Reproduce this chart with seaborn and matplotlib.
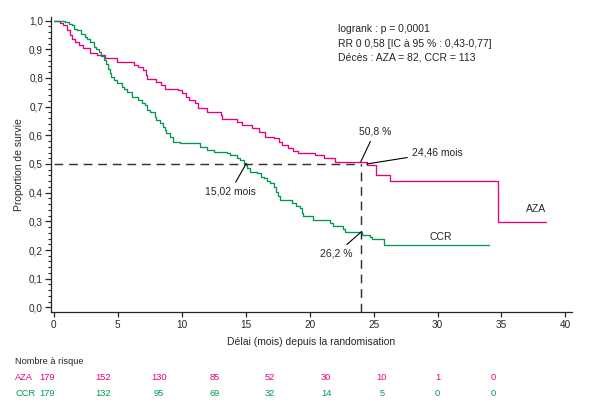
import matplotlib
matplotlib.use("Agg")
import matplotlib.pyplot as plt
import seaborn as sns
import numpy as np

# Courbes de survie (Kaplan-Meier) : temps (mois) / proportion
aza_temps = [0, 0.5, 0.75, 1.0, 1.25, 1.45, 1.65, 2.0, 2.3, 2.8, 3.4, 4.0, 4.9,
             6.3, 6.6, 7.0, 7.2, 7.3, 8.0, 8.4, 8.7, 9.7, 10.0, 10.3, 10.6,
             11.0, 11.3, 11.95, 13.05, 13.15, 14.3, 14.7, 15.5, 16.0, 16.5,
             17.2, 17.6, 17.8, 18.3, 18.7, 19.1, 20.4, 21.1, 22.0, 24.46,
             25.15, 26.3, 34.7, 38.5]
aza_survie = [1.0, 0.99, 0.983, 0.966, 0.949, 0.937, 0.926, 0.914, 0.903, 0.888,
              0.879, 0.868, 0.856, 0.845, 0.839, 0.827, 0.81, 0.798, 0.787,
              0.775, 0.763, 0.757, 0.746, 0.734, 0.723, 0.711, 0.694, 0.682,
              0.671, 0.656, 0.648, 0.636, 0.624, 0.612, 0.595, 0.589, 0.577,
              0.566, 0.555, 0.546, 0.537, 0.531, 0.52, 0.508, 0.497, 0.462,
              0.441, 0.296, 0.296]

ccr_temps = [0, 0.9, 1.2, 1.4, 1.6, 1.8, 2.1, 2.4, 2.6, 2.8, 3.1, 3.3, 3.5, 3.7,
             3.9, 4.1, 4.25, 4.4, 4.5, 4.7, 4.9, 5.3, 5.5, 5.7, 6.1, 6.6, 6.9,
             7.1, 7.3, 7.5, 7.9, 8.0, 8.3, 8.55, 8.7, 8.8, 9.1, 9.33, 9.86,
             11.4, 12.0, 12.5, 13.5, 13.8, 14.3, 14.55, 14.9, 15.02, 15.1,
             15.3, 15.85, 16.2, 16.4, 16.7, 16.9, 17.2, 17.4, 17.55, 17.7,
             18.6, 18.9, 19.25, 19.4, 19.5, 20.3, 21.6, 21.85, 22.6, 22.8,
             24.06, 24.7, 24.85, 25.8, 34.06]
ccr_survie = [1.0, 0.994, 0.989, 0.983, 0.972, 0.966, 0.955, 0.943, 0.935, 0.926,
              0.908, 0.9, 0.891, 0.877, 0.862, 0.848, 0.833, 0.818, 0.804,
              0.792, 0.781, 0.769, 0.76, 0.752, 0.734, 0.723, 0.714, 0.705,
              0.69, 0.68, 0.665, 0.653, 0.642, 0.63, 0.618, 0.607, 0.593,
              0.578, 0.572, 0.56, 0.549, 0.543, 0.537, 0.531, 0.52, 0.514,
              0.503, 0.497, 0.485, 0.473, 0.468, 0.456, 0.45, 0.439, 0.433,
              0.42, 0.404, 0.39, 0.375, 0.363, 0.352, 0.346, 0.33, 0.317,
              0.305, 0.294, 0.282, 0.273, 0.264, 0.253, 0.247, 0.238, 0.218,
              0.218]

# Nombre de patients à risque
risque_aza = [179, 152, 130, 85, 52, 30, 10, 1, 0]
risque_ccr = [179, 132, 95, 69, 32, 14, 5, 0, 0]

# Médianes et repères
mediane_aza = 24.46
mediane_ccr = 15.02
repere_mois = 24
survie_24_aza = 0.508
survie_24_ccr = 0.262

x_ticks = [0, 5, 10, 15, 20, 25, 30, 35, 40]
y_ticks = [0.0, 0.1, 0.2, 0.3, 0.4, 0.5, 0.6, 0.7, 0.8, 0.9, 1.0]
y_labels = ["0,0", "0,1", "0,2", "0,3", "0,4", "0,5", "0,6", "0,7", "0,8", "0,9", "1,0"]

stats_txt = ["logrank : p = 0,0001",
             "RR 0 0,58 [IC à 95 % : 0,43-0,77]",
             "Décès : AZA = 82, CCR = 113"]

ROSE = "#E5007E"
VERT = "#009A4E"
GRIS = "#333333"

sns.set_style("ticks")
plt.rcParams["font.family"] = ["Liberation Sans", "DejaVu Sans"]
plt.rcParams["axes.linewidth"] = 0.9

fig = plt.figure(figsize=(6, 4.09), dpi=100)
ax = fig.add_axes([0.0845, 0.238, 0.8685, 0.72])

sns.lineplot(x=aza_temps, y=aza_survie, drawstyle="steps-post", color=ROSE,
             linewidth=0.95, ax=ax, estimator=None)
sns.lineplot(x=ccr_temps, y=ccr_survie, drawstyle="steps-post", color=VERT,
             linewidth=0.95, ax=ax, estimator=None)

# lignes pointillées (médiane 0,5 et repère à 24 mois)
ax.plot([0, repere_mois], [0.5, 0.5], ls=(0, (6, 4)), color=GRIS, lw=1.05)
ax.plot([repere_mois, repere_mois], [-0.015, 0.5], ls=(0, (6, 4)), color=GRIS, lw=1.05)

ax.set_xlim(-0.25, 40.5)
ax.set_ylim(-0.015, 1.012)
ax.set_xticks(x_ticks)
ax.set_xticklabels([str(v) for v in x_ticks], fontsize=7.2)
ax.set_yticks(y_ticks)
ax.set_yticklabels(y_labels, fontsize=7.2)
ax.set_yticks(np.arange(0, 1.001, 0.02), minor=True)
ax.tick_params(axis="y", which="major", length=4, width=0.9, pad=1.5)
ax.tick_params(axis="y", which="minor", length=2.2, width=0.8)
ax.tick_params(axis="x", which="major", length=3.5, width=0.9, pad=2.5)
sns.despine(ax=ax)

ax.set_xlabel("Délai (mois) depuis la randomisation", fontsize=7.5, labelpad=5)
ax.set_ylabel("Proportion de survie", fontsize=7.5, labelpad=4)

# annotations
fl = dict(arrowstyle="-", color="black", lw=0.8, shrinkA=1, shrinkB=0)
ax.annotate("50,8 %", xy=(repere_mois, survie_24_aza), xytext=(25.1, 0.612),
            ha="center", va="center", fontsize=7.5, arrowprops=fl)
ax.annotate("24,46 mois", xy=(mediane_aza, 0.5), xytext=(28.0, 0.539),
            ha="left", va="center", fontsize=7.5, arrowprops=fl)
ax.annotate("15,02 mois", xy=(mediane_ccr, 0.5), xytext=(13.8, 0.404),
            ha="center", va="center", fontsize=7.5, arrowprops=fl)
ax.annotate("26,2 %", xy=(repere_mois, survie_24_ccr), xytext=(22.1, 0.187),
            ha="center", va="center", fontsize=7.5, arrowprops=fl)
ax.text(37.7, 0.342, "AZA", ha="center", va="center", fontsize=7.5)
ax.text(30.25, 0.247, "CCR", ha="center", va="center", fontsize=7.5)

ax.text(22.2, 0.92, "\n".join(stats_txt), ha="left", va="center",
        fontsize=7.5, linespacing=1.55)

# tableau du nombre à risque
tab = fig.add_axes([19.1 / 600, 7 / 409, 502.1 / 600, 48 / 409])
tab.set_xlim(-0.5, 8.5)
tab.set_ylim(2.5, -0.5)
tab.axis("off")
tab.text(-0.57, 0, "Nombre à risque", ha="left", va="center", fontsize=6.7)
tab.text(-0.57, 1, "AZA", ha="left", va="center", fontsize=6.7, color=ROSE)
tab.text(-0.57, 2, "CCR", ha="left", va="center", fontsize=6.7, color=VERT)
for i, (a, c) in enumerate(zip(risque_aza, risque_ccr)):
    tab.text(i, 1, str(a), ha="center", va="center", fontsize=6.7, color=ROSE)
    tab.text(i, 2, str(c), ha="center", va="center", fontsize=6.7, color=VERT)

fig.savefig("out.png", dpi=100)
